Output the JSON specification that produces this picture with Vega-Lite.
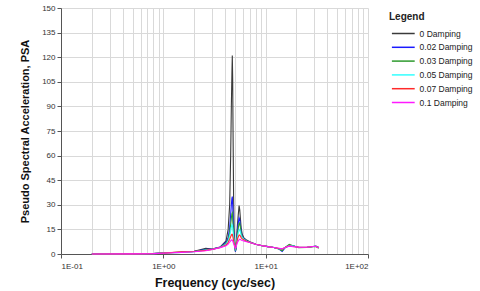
{
  "$schema": "https://vega.github.io/schema/vega-lite/v6.json",
  "autosize": "none",
  "width": 307,
  "height": 246,
  "padding": {"left": 61, "top": 8, "right": 112, "bottom": 37},
  "background": "white",
  "config": {
    "font": "Liberation Sans",
    "view": {"stroke": null}
  },
  "data": {
    "values": [
      {"f": 0.2, "d0": 0, "d02": 0, "d03": 0, "d05": 0, "d07": 0, "d10": 0},
      {"f": 0.5, "d0": 0.05, "d02": 0.05, "d03": 0.05, "d05": 0.05, "d07": 0.05, "d10": 0.05},
      {"f": 0.8, "d0": 0.2, "d02": 0.2, "d03": 0.2, "d05": 0.25, "d07": 0.2, "d10": 0.2},
      {"f": 1.1, "d0": 0.8, "d02": 0.9, "d03": 0.8, "d05": 0.7, "d07": 0.7, "d10": 0.6},
      {"f": 1.5, "d0": 1.2, "d02": 1.1, "d03": 1.0, "d05": 1.0, "d07": 1.3, "d10": 1.0},
      {"f": 2.0, "d0": 1.6, "d02": 1.5, "d03": 1.5, "d05": 1.4, "d07": 1.5, "d10": 1.4},
      {"f": 2.6, "d0": 3.4, "d02": 2.8, "d03": 2.6, "d05": 2.4, "d07": 2.2, "d10": 2.0},
      {"f": 3.0, "d0": 3.0, "d02": 3.0, "d03": 2.9, "d05": 2.8, "d07": 2.8, "d10": 2.7},
      {"f": 3.6, "d0": 4.3, "d02": 4.2, "d03": 4.1, "d05": 4.0, "d07": 4.0, "d10": 3.9},
      {"f": 4.1, "d0": 8, "d02": 7.2, "d03": 6.5, "d05": 6, "d07": 5.5, "d10": 5},
      {"f": 4.3, "d0": 15, "d02": 10, "d03": 9, "d05": 8, "d07": 7, "d10": 6},
      {"f": 4.45, "d0": 30, "d02": 16, "d03": 13, "d05": 11, "d07": 9, "d10": 7.3},
      {"f": 4.55, "d0": 60, "d02": 24, "d03": 18, "d05": 14, "d07": 10.5, "d10": 8},
      {"f": 4.62, "d0": 90, "d02": 30, "d03": 22, "d05": 16.5, "d07": 11.5, "d10": 8.5},
      {"f": 4.68, "d0": 110, "d02": 34, "d03": 24.5, "d05": 18, "d07": 12, "d10": 8.6},
      {"f": 4.72, "d0": 121, "d02": 35, "d03": 25, "d05": 17.5, "d07": 12, "d10": 8.4},
      {"f": 4.76, "d0": 107, "d02": 30, "d03": 22, "d05": 16, "d07": 11, "d10": 8},
      {"f": 4.8, "d0": 75, "d02": 24, "d03": 18, "d05": 14, "d07": 10, "d10": 7.3},
      {"f": 4.86, "d0": 35, "d02": 16, "d03": 13, "d05": 10.5, "d07": 8, "d10": 6.3},
      {"f": 4.92, "d0": 15, "d02": 9, "d03": 8, "d05": 7.5, "d07": 6.5, "d10": 5.3},
      {"f": 5.0, "d0": 5, "d02": 4, "d03": 4, "d05": 4.5, "d07": 4.5, "d10": 4.2},
      {"f": 5.06, "d0": 1.5, "d02": 1.5, "d03": 2, "d05": 3, "d07": 3.5, "d10": 3.5},
      {"f": 5.12, "d0": 3, "d02": 3, "d03": 3.5, "d05": 4, "d07": 4.5, "d10": 4},
      {"f": 5.2, "d0": 10, "d02": 8, "d03": 7, "d05": 7, "d07": 6.5, "d10": 5.5},
      {"f": 5.3, "d0": 18, "d02": 14, "d03": 12, "d05": 10.5, "d07": 9, "d10": 7},
      {"f": 5.4, "d0": 24, "d02": 19, "d03": 16, "d05": 13, "d07": 10.5, "d10": 8},
      {"f": 5.5, "d0": 29.5, "d02": 22, "d03": 18.5, "d05": 14.5, "d07": 11.5, "d10": 8.7},
      {"f": 5.58, "d0": 27, "d02": 21, "d03": 19, "d05": 15, "d07": 11.5, "d10": 9},
      {"f": 5.66, "d0": 22, "d02": 18, "d03": 16.5, "d05": 13.5, "d07": 11, "d10": 8.8},
      {"f": 5.76, "d0": 16, "d02": 14, "d03": 13, "d05": 11.5, "d07": 10, "d10": 8.5},
      {"f": 5.9, "d0": 12, "d02": 11, "d03": 10.5, "d05": 10, "d07": 9.2, "d10": 8.2},
      {"f": 6.1, "d0": 10, "d02": 9.5, "d03": 9.2, "d05": 9, "d07": 8.7, "d10": 8},
      {"f": 6.5, "d0": 8.5, "d02": 8, "d03": 8, "d05": 8, "d07": 7.8, "d10": 7.5},
      {"f": 7, "d0": 7.5, "d02": 7.2, "d03": 7.1, "d05": 7, "d07": 7, "d10": 7},
      {"f": 8, "d0": 6, "d02": 6, "d03": 6, "d05": 6, "d07": 6, "d10": 6},
      {"f": 9, "d0": 5.2, "d02": 5.2, "d03": 5.2, "d05": 5.2, "d07": 5.2, "d10": 5.2},
      {"f": 10.5, "d0": 4.5, "d02": 4.5, "d03": 4.5, "d05": 4.5, "d07": 4.5, "d10": 4.5},
      {"f": 12, "d0": 4, "d02": 4, "d03": 4, "d05": 4, "d07": 4, "d10": 4},
      {"f": 13.5, "d0": 3.2, "d02": 3, "d03": 3, "d05": 3.2, "d07": 3.4, "d10": 3.5},
      {"f": 14.5, "d0": 2.5, "d02": 1.5, "d03": 2, "d05": 2.8, "d07": 3, "d10": 3.2},
      {"f": 15.5, "d0": 4, "d02": 3.8, "d03": 4, "d05": 4, "d07": 4, "d10": 4},
      {"f": 17, "d0": 5.5, "d02": 5.2, "d03": 5.8, "d05": 5.2, "d07": 5, "d10": 4.8},
      {"f": 18.5, "d0": 5, "d02": 5, "d03": 5, "d05": 4.8, "d07": 4.6, "d10": 4.5},
      {"f": 21, "d0": 4, "d02": 4, "d03": 3.8, "d05": 4.1, "d07": 4.2, "d10": 4.2},
      {"f": 25, "d0": 4, "d02": 4, "d03": 4, "d05": 4.1, "d07": 4.1, "d10": 4.1},
      {"f": 29, "d0": 4.6, "d02": 4.6, "d03": 4.5, "d05": 4.6, "d07": 4.6, "d10": 4.6},
      {"f": 31, "d0": 4.8, "d02": 4.7, "d03": 4.6, "d05": 4.6, "d07": 4.6, "d10": 4.6},
      {"f": 33, "d0": 3.8, "d02": 4, "d03": 3.5, "d05": 4, "d07": 4, "d10": 4}
    ]
  },
  "transform": [
    {"fold": ["d0", "d02", "d03", "d05", "d07", "d10"], "as": ["series", "psa"]}
  ],
  "mark": {"type": "line", "strokeWidth": 1.1, "interpolate": "linear"},
  "encoding": {
    "x": {
      "field": "f",
      "type": "quantitative",
      "scale": {"type": "log", "domain": [0.1, 100], "nice": false},
      "axis": {
        "title": "Frequency (cyc/sec)",
        "titleFont": "Liberation Sans",
        "titleFontSize": 12.5,
        "titleFontWeight": "bold",
        "titleColor": "#111",
        "titlePadding": 6,
        "values": [0.1, 0.2, 0.3, 0.4, 0.5, 0.6, 0.7, 0.8, 0.9, 1, 2, 3, 4, 5, 6, 7, 8, 9, 10, 20, 30, 40, 50, 60, 70, 80, 90, 100],
        "labelExpr": "datum.value == 0.1 ? '1E-01' : datum.value == 1 ? '1E+00' : datum.value == 10 ? '1E+01' : datum.value == 100 ? '1E+02' : ''",
        "labelOverlap": false,
        "labelBound": false,
        "labelFontSize": 8,
        "labelColor": "#333",
        "labelPadding": 4,
        "tickSize": 4,
        "tickColor": "#555",
        "tickOpacity": {"condition": {"test": "datum.value == 0.1 || datum.value == 1 || datum.value == 10 || datum.value == 100", "value": 1}, "value": 0},
        "domainColor": "#555",
        "gridColor": "#d9d9d9",
        "gridWidth": 1
      }
    },
    "y": {
      "field": "psa",
      "type": "quantitative",
      "scale": {"domain": [0, 150], "nice": false},
      "axis": {
        "title": "Pseudo Spectral Acceleration, PSA",
        "titleFont": "Liberation Sans",
        "titleFontSize": 11,
        "titleFontWeight": "bold",
        "titleColor": "#111",
        "titlePadding": 11,
        "values": [0, 15, 30, 45, 60, 75, 90, 105, 120, 135, 150],
        "labelFontSize": 8,
        "labelColor": "#333",
        "labelPadding": 2,
        "tickSize": 4,
        "tickColor": "#555",
        "domainColor": "#555",
        "gridColor": "#d9d9d9",
        "gridWidth": 1
      }
    },
    "color": {
      "field": "series",
      "type": "nominal",
      "scale": {
        "domain": ["d0", "d02", "d03", "d05", "d07", "d10"],
        "range": ["#3a3a3a", "#1a1aff", "#2e9a2e", "#33ffff", "#ff2a2a", "#ff1aff"]
      },
      "legend": {
        "title": "Legend",
        "orient": "none",
        "legendX": 328,
        "legendY": 4,
        "padding": 0,
        "titleFontSize": 10,
        "titleFontWeight": "bold",
        "titleColor": "#222",
        "titlePadding": 4,
        "labelFontSize": 8.5,
        "labelColor": "#222",
        "labelExpr": "datum.value == 'd0' ? '0 Damping' : datum.value == 'd02' ? '0.02 Damping' : datum.value == 'd03' ? '0.03 Damping' : datum.value == 'd05' ? '0.05 Damping' : datum.value == 'd07' ? '0.07 Damping' : '0.1 Damping'",
        "symbolType": "M-1.7,0H1.7",
        "symbolSize": 180,
        "symbolStrokeWidth": 1.5,
        "symbolOffset": 6.8,
        "labelOffset": 8.8,
        "rowPadding": 1.8
      }
    },
    "order": {"field": "f", "type": "quantitative"}
  }
}
